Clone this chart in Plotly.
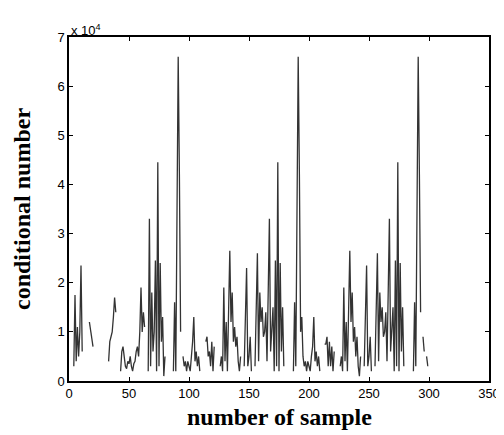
import plotly.graph_objects as go

N = None
# conditional number (x 10^4) per sample, gaps = missing samples
period1 = [N, N, N, N, 0.3, 1.75, 0.4, 1.1, 0.5, 1.0,
           2.35, 0.6, N, N, N, N, N, 1.2, 1.0, 0.9,
           0.7, N, N, N, N, N, N, N, N, N,
           N, N, N, 0.4, 0.8, 0.9, 1.0, 1.3, 1.7, 1.4,
           N, N, N, 0.2, 0.6, 0.7, 0.45, 0.3, 0.25, 0.4,
           0.35, 0.5, 0.3, 0.2, 0.35, 0.4, 0.6, 0.7, 0.5, 1.0,
           1.9, 1.0, 1.4, 1.1, N, N, 0.2, 3.3, 0.3, 1.8,
           0.6, 1.0, 2.45, 0.2, 4.45, 0.3, 2.4, 0.8, 1.3, 0.1,
           0.5, N, N, N, N, N, N, 0.2, 1.6, 0.2,
           3.55, 6.6, 4.2, 1.0, N, 0.5, 0.3, 0.4, 0.2, 0.4]
period2 = [0.3, 0.2, 0.5, 0.8, 1.3, 0.4, 0.6, 0.3, 0.5, 0.2,
           N, N, N, N, 0.8, 0.9, 0.5, 0.6, 0.3, 0.8,
           0.2, 0.7, N, N, N, N, 0.3, 0.5, 0.2, 1.9,
           0.4, 1.2, 0.2, 1.9, 2.65, 1.2, 1.8, 0.8, 1.1, 0.7,
           0.9, 0.4, 0.2, 0.5, N, N, 0.3, 1.4, 2.3, 0.3,
           0.5, 0.9, 0.2, N, N, 0.3, 1.6, 2.6, 0.4, 1.8,
           1.2, 1.5, 0.9, 1.0, 1.4, 0.4, 1.8, 3.3, 0.6, 1.0,
           1.5, 0.2, 2.45, 0.3, 4.45, 0.2, 2.4, 0.6, 1.5, 0.3,
           N, N, N, N, N, N, N, 0.2, 1.6, 0.3,
           3.55, 6.6, 4.2, 1.0, 1.3, 0.5, 0.3, 0.4, 0.2, 0.4]
period3 = [0.3, 0.2, 0.5, 0.7, 1.3, 0.4, 0.6, 0.3, 0.5, 0.2,
           N, N, N, 0.75, 0.75, 0.9, 0.3, 0.8, 0.3, 0.7,
           0.2, 0.6, N, N, N, N, 0.3, 0.5, 0.2, 1.9,
           0.4, 1.2, 0.2, 1.8, 2.65, 1.2, 1.8, 0.8, 1.1, 0.5,
           0.9, 0.3, 0.1, 0.5, N, N, 0.3, 1.4, 2.35, 0.3,
           0.5, 0.9, 0.2, N, N, 0.3, 1.6, 2.6, 0.4, 1.8,
           1.2, 1.5, 0.9, 1.0, 1.4, 0.4, 1.8, 3.3, 0.6, 1.0,
           1.5, 0.2, 2.45, 0.3, 4.45, 0.2, 2.4, 0.6, 1.5, 0.3,
           N, N, N, N, N, N, N, 0.2, 1.6, 0.3,
           3.55, 6.6, 4.2, 1.4, N, 0.9, 0.6, N, 0.5, 0.3]

values = period1 + period2 + period3
samples = list(range(len(values)))

x_ticks = [0, 50, 100, 150, 200, 250, 300, 350]
y_ticks = [0, 1, 2, 3, 4, 5, 6, 7]

fig = go.Figure()
fig.add_trace(go.Scatter(x=samples, y=values, mode="lines",
                         line=dict(color="#333333", width=1.3),
                         connectgaps=False, showlegend=False))

axis_common = dict(showgrid=False, zeroline=False, showline=True,
                   linecolor="black", linewidth=1.5, mirror="ticks",
                   ticks="inside", ticklen=4, tickcolor="black", automargin=False,
                   tickfont=dict(family="Liberation Sans", size=13, color="black"))

fig.update_xaxes(range=[0, 350], tickvals=x_ticks, **axis_common)
fig.update_yaxes(range=[0, 7], tickvals=y_ticks, **axis_common)

title_font = dict(family="Liberation Serif", size=24, color="black")
fig.add_annotation(x=0.5, y=0, xref="paper", yref="paper", xanchor="center", yanchor="middle",
                   yshift=-36, text="<b>number of sample</b>", showarrow=False, font=title_font)
fig.add_annotation(x=0, y=0.5, xref="paper", yref="paper", xanchor="center", yanchor="middle",
                   xshift=-47, textangle=-90, text="<b>conditional number</b>",
                   showarrow=False, font=title_font)

fig.add_annotation(x=0, y=1, xref="paper", yref="paper", xanchor="left", yanchor="bottom",
                   text="x 10<sup>4</sup>", showarrow=False,
                   font=dict(family="Liberation Sans", size=13, color="black"), yshift=-3)

fig.update_layout(width=496, height=427, plot_bgcolor="white", paper_bgcolor="white",
                  margin=dict(l=61, r=15, t=29, b=54))

fig.write_html("out.html")
